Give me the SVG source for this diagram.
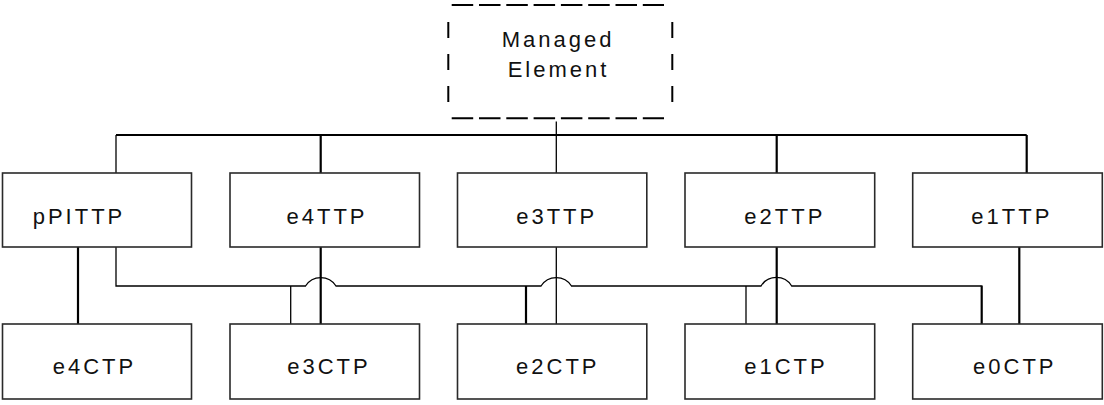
<svg xmlns="http://www.w3.org/2000/svg" width="1104" height="405" viewBox="0 0 1104 405">
  <style>
    .box { fill: #ffffff; stroke: #2a2a2a; stroke-width: 1.6; }
    .lbl { font-family: "Liberation Sans", Arial, sans-serif; font-size: 22px; letter-spacing: 3px; fill: #111111; text-anchor: middle; }
    .thick { fill: none; stroke: #000000; stroke-width: 2.2; }
    .thin { fill: none; stroke: #000000; stroke-width: 1.3; }
    .dash-h { fill: none; stroke: #000000; stroke-width: 2; stroke-dasharray: 21.5 5.8; }
    .dash-v { fill: none; stroke: #000000; stroke-width: 2; stroke-dasharray: 16 16; }
  </style>
  <rect width="1104" height="405" fill="#ffffff"/>

  <!-- connectors -->
  <g id="connectors">
    <!-- containment bus from Managed Element -->
    <line class="thin" x1="556.3" y1="121.5" x2="556.3" y2="173"/>
    <line class="thick" x1="116" y1="135" x2="1026.7" y2="135"/>
    <line class="thin" x1="116" y1="135" x2="116" y2="173"/>
    <line class="thick" x1="320.7" y1="135" x2="320.7" y2="173"/>
    <line class="thick" x1="776.7" y1="135" x2="776.7" y2="173"/>
    <line class="thick" x1="1026.7" y1="135" x2="1026.7" y2="173"/>

    <!-- TTP to CTP links -->
    <line class="thick" x1="78" y1="247" x2="78" y2="324"/>
    <line class="thick" x1="320.7" y1="247" x2="320.7" y2="324"/>
    <line class="thin" x1="556.3" y1="247" x2="556.3" y2="324"/>
    <line class="thick" x1="776.7" y1="247" x2="776.7" y2="324"/>
    <line class="thick" x1="1019.3" y1="247" x2="1019.3" y2="324"/>

    <!-- pPITTP distribution line with hops over the vertical links -->
    <path class="thin" d="M116 247 V286 H305.5 A18 18 0 0 1 336 286 H541 A18 18 0 0 1 571.5 286 H761 A18 18 0 0 1 791.7 286 H981.7"/>
    <line class="thick" x1="981.7" y1="285.5" x2="981.7" y2="324"/>
    <line class="thin" x1="290.7" y1="286" x2="290.7" y2="324"/>
    <line class="thick" x1="526" y1="286" x2="526" y2="324"/>
    <line class="thin" x1="746" y1="286" x2="746" y2="324"/>
  </g>

  <!-- Managed Element (dashed outline) -->
  <g id="managed-element">
    <line class="dash-h" x1="451.7" y1="5" x2="664" y2="5"/>
    <line class="dash-h" x1="451.7" y1="118.3" x2="664" y2="118.3"/>
    <line class="dash-v" x1="448.3" y1="22" x2="448.3" y2="102"/>
    <line class="dash-v" x1="672.3" y1="22" x2="672.3" y2="102"/>
    <text class="lbl" x="558" y="47">Managed</text>
    <text class="lbl" x="558.5" y="77">Element</text>
  </g>

  <!-- trail termination points -->
  <g id="pPITTP">
    <rect class="box" x="2.5" y="173" width="189" height="74"/>
    <text class="lbl" x="79" y="224">pPITTP</text>
  </g>
  <g id="e4TTP">
    <rect class="box" x="230" y="173" width="189.5" height="74"/>
    <text class="lbl" x="327" y="224">e4TTP</text>
  </g>
  <g id="e3TTP">
    <rect class="box" x="457.5" y="173" width="189.3" height="74"/>
    <text class="lbl" x="556.7" y="224">e3TTP</text>
  </g>
  <g id="e2TTP">
    <rect class="box" x="685" y="173" width="189.7" height="74"/>
    <text class="lbl" x="784.8" y="224">e2TTP</text>
  </g>
  <g id="e1TTP">
    <rect class="box" x="912.7" y="173" width="189.6" height="74"/>
    <text class="lbl" x="1011.8" y="224">e1TTP</text>
  </g>

  <!-- connection termination points -->
  <g id="e4CTP">
    <rect class="box" x="2.5" y="324" width="189" height="75"/>
    <text class="lbl" x="94.5" y="374">e4CTP</text>
  </g>
  <g id="e3CTP">
    <rect class="box" x="230" y="324" width="189.5" height="75"/>
    <text class="lbl" x="329" y="374">e3CTP</text>
  </g>
  <g id="e2CTP">
    <rect class="box" x="457.5" y="324" width="189.3" height="75"/>
    <text class="lbl" x="557.8" y="374">e2CTP</text>
  </g>
  <g id="e1CTP">
    <rect class="box" x="685" y="324" width="189.7" height="75"/>
    <text class="lbl" x="786" y="374">e1CTP</text>
  </g>
  <g id="e0CTP">
    <rect class="box" x="912.7" y="324" width="189.6" height="75"/>
    <text class="lbl" x="1014.8" y="374">e0CTP</text>
  </g>
</svg>
